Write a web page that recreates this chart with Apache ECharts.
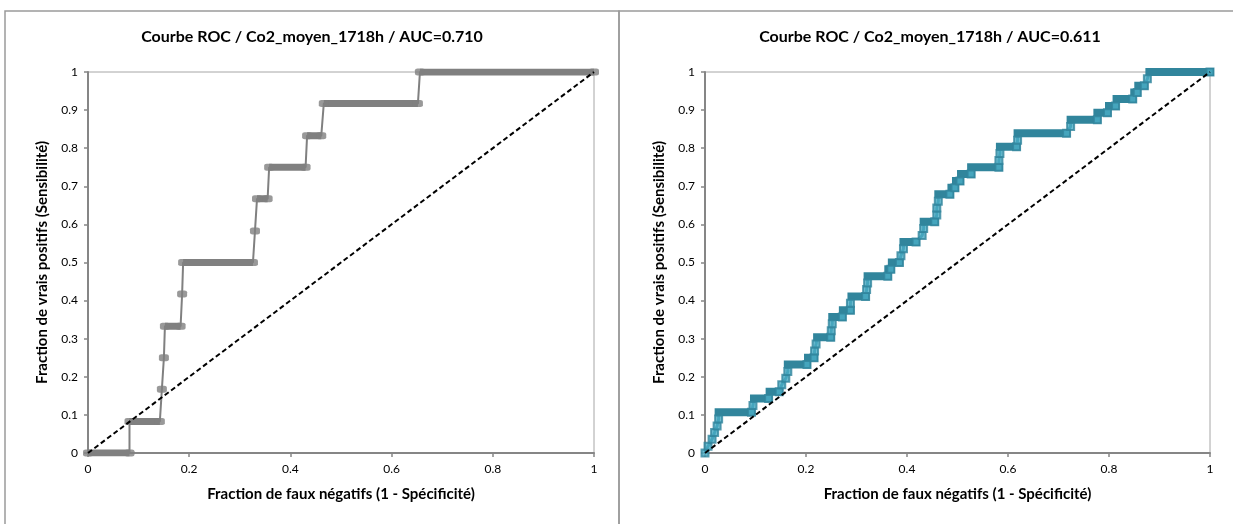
<!DOCTYPE html>
<html>
<head>
<meta charset="utf-8">
<script src="https://cdn.jsdelivr.net/npm/echarts@6/dist/echarts.min.js"></script>
<style>
html, body { margin: 0; padding: 0; background: #fff; }
#chart { width: 1233px; height: 524px; }
</style>
</head>
<body>
<div id="chart"></div>
<script>
// titles and axis names
var leftTitle = 'Courbe ROC / Co2_moyen_1718h / AUC=0.710';
var rightTitle = 'Courbe ROC / Co2_moyen_1718h / AUC=0.611';
var xName = 'Fraction de faux négatifs (1 - Spécificité)';
var yName = 'Fraction de vrais positifs (Sensibilité)';

// left curve (grey), corner points
var leftFpr = [0, 0.082, 0.082, 0.142, 0.146, 0.150, 0.152, 0.183, 0.186, 0.188, 0.326,
  0.330, 0.334, 0.355, 0.358, 0.430, 0.433, 0.461, 0.466, 0.652, 0.656, 1];
var leftTpr = [0, 0, 0.083, 0.083, 0.167, 0.25, 0.333, 0.333, 0.417, 0.5, 0.5,
  0.583, 0.667, 0.667, 0.75, 0.75, 0.833, 0.833, 0.917, 0.917, 1, 1];

// right curve (teal)
var rightFpr = [0, 0.006, 0.014, 0.019, 0.024, 0.027, 0.027, 0.092, 0.095, 0.097, 0.126,
  0.128, 0.147, 0.152, 0.160, 0.164, 0.164, 0.202, 0.204, 0.216, 0.217, 0.220,
  0.222, 0.249, 0.250, 0.252, 0.252, 0.272, 0.273, 0.288, 0.288, 0.290, 0.318,
  0.320, 0.322, 0.322, 0.362, 0.363, 0.368, 0.370, 0.385, 0.388, 0.393, 0.393,
  0.418, 0.430, 0.433, 0.433, 0.455, 0.459, 0.459, 0.462, 0.462, 0.485, 0.488,
  0.495, 0.497, 0.505, 0.507, 0.527, 0.527, 0.582, 0.582, 0.584, 0.584, 0.617,
  0.619, 0.619, 0.716, 0.724, 0.724, 0.777, 0.777, 0.797, 0.800, 0.813, 0.815,
  0.847, 0.850, 0.856, 0.858, 0.870, 0.876, 0.880, 1];
var rightTpr = [0, 0.018, 0.036, 0.054, 0.071, 0.089, 0.107, 0.107, 0.125, 0.143, 0.143,
  0.161, 0.161, 0.179, 0.196, 0.214, 0.232, 0.232, 0.25, 0.25, 0.268, 0.286,
  0.304, 0.304, 0.321, 0.339, 0.357, 0.357, 0.375, 0.375, 0.393, 0.411, 0.411,
  0.429, 0.446, 0.464, 0.464, 0.482, 0.482, 0.5, 0.5, 0.518, 0.536, 0.554,
  0.554, 0.571, 0.589, 0.607, 0.607, 0.625, 0.643, 0.661, 0.679, 0.679, 0.696,
  0.696, 0.714, 0.714, 0.732, 0.732, 0.75, 0.75, 0.768, 0.786, 0.804, 0.804,
  0.821, 0.839, 0.839, 0.857, 0.875, 0.875, 0.893, 0.893, 0.911, 0.911, 0.929,
  0.929, 0.946, 0.946, 0.964, 0.964, 0.982, 1, 1];

// random-guess reference line
var diagX = [0, 1];
var diagY = [0, 1];

var font = 'Lato, "Liberation Sans", sans-serif';

function pairs(xs, ys) {
  return xs.map(function (x, i) { return [x, ys[i]]; });
}

// horizontal runs (same tpr) drawn as thick bars, broken by gaps
function runs(xs, ys) {
  var out = [];
  var i = 0;
  while (i < xs.length) {
    var j = i;
    while (j + 1 < xs.length && ys[j + 1] === ys[i]) j++;
    if (j > i) {
      out.push([xs[i], ys[i]], [xs[j], ys[j]], [xs[j], '-']);
    }
    i = j + 1;
  }
  return out;
}

// markers left visible: last point of each run
function visibleMarks(xs, ys) {
  var out = [];
  for (var i = 0; i < xs.length; i++) {
    if (i === xs.length - 1 || ys[i + 1] !== ys[i]) out.push([xs[i], ys[i]]);
  }
  return out;
}

function xAxis(idx) {
  return {
    type: 'value', gridIndex: idx, min: 0, max: 1, interval: 0.2,
    name: xName, nameLocation: 'middle', nameGap: 34,
    nameTextStyle: { color: '#000', fontSize: 15, fontWeight: 'bold', fontFamily: font },
    axisLine: { lineStyle: { color: '#868686', width: 2 } },
    axisTick: { length: 4, lineStyle: { color: '#868686', width: 1.5 } },
    axisLabel: { color: '#000', fontSize: 12, margin: 10, fontFamily: font },
    splitLine: { show: false }
  };
}

function yAxis(idx) {
  return {
    type: 'value', gridIndex: idx, min: 0, max: 1, interval: 0.1,
    name: yName, nameLocation: 'middle', nameGap: 38,
    nameTextStyle: { color: '#000', fontSize: 15, fontWeight: 'bold', fontFamily: font },
    axisLine: { show: true, lineStyle: { color: '#868686', width: 2 } },
    axisTick: { show: true, length: 4, lineStyle: { color: '#868686', width: 1.5 } },
    axisLabel: { color: '#000', fontSize: 12, margin: 10, fontFamily: font },
    splitLine: { show: false }
  };
}

function diagSeries(idx) {
  return {
    type: 'line', xAxisIndex: idx, yAxisIndex: idx, data: pairs(diagX, diagY),
    symbol: 'none', z: 6, silent: true,
    lineStyle: { color: '#000', width: 2, type: [5, 3] }
  };
}

var chart = echarts.init(document.getElementById('chart'));
chart.setOption({
  animation: false,
  backgroundColor: '#fff',
  title: [
    { text: leftTitle, left: 312, top: 29, textAlign: 'center', padding: 0,
      textStyle: { fontSize: 16, fontWeight: 'bold', color: '#000', fontFamily: font } },
    { text: rightTitle, left: 930, top: 29, textAlign: 'center', padding: 0,
      textStyle: { fontSize: 16, fontWeight: 'bold', color: '#000', fontFamily: font } }
  ],
  graphic: [
    { type: 'rect', silent: true, shape: { x: 5, y: 11, width: 614, height: 540 },
      style: { fill: 'none', stroke: '#9a9a9a', lineWidth: 1.5 } },
    { type: 'rect', silent: true, shape: { x: 619, y: 11, width: 640, height: 540 },
      style: { fill: 'none', stroke: '#9a9a9a', lineWidth: 1.5 } }
  ],
  grid: [
    { left: 88, top: 72, width: 506, height: 381, show: true, borderColor: '#a6a6a6', borderWidth: 1 },
    { left: 705, top: 72, width: 505, height: 381, show: true, borderColor: '#a6a6a6', borderWidth: 1 }
  ],
  xAxis: [xAxis(0), xAxis(1)],
  yAxis: [yAxis(0), yAxis(1)],
  series: [
    // left chart
    { type: 'line', xAxisIndex: 0, yAxisIndex: 0, data: pairs(leftFpr, leftTpr),
      symbol: 'none', z: 2, silent: true, lineStyle: { color: '#808080', width: 2 } },
    { type: 'line', xAxisIndex: 0, yAxisIndex: 0, data: runs(leftFpr, leftTpr),
      symbol: 'none', connectNulls: false, z: 3, silent: true,
      lineStyle: { color: '#808080', width: 7, cap: 'butt' } },
    { type: 'scatter', xAxisIndex: 0, yAxisIndex: 0, data: pairs(leftFpr, leftTpr),
      symbol: 'roundRect', symbolSize: [10, 7], z: 4, silent: true,
      itemStyle: { color: '#808080' } },
    diagSeries(0),
    // right chart
    { type: 'line', xAxisIndex: 1, yAxisIndex: 1, data: pairs(rightFpr, rightTpr),
      symbol: 'none', z: 2, silent: true, lineStyle: { color: '#31859c', width: 3 } },
    { type: 'line', xAxisIndex: 1, yAxisIndex: 1, data: runs(rightFpr, rightTpr),
      symbol: 'none', connectNulls: false, z: 3, silent: true,
      lineStyle: { color: '#31859c', width: 8, cap: 'square' } },
    { type: 'scatter', xAxisIndex: 1, yAxisIndex: 1, data: visibleMarks(rightFpr, rightTpr),
      symbol: 'rect', symbolSize: 7, z: 4, silent: true,
      itemStyle: { color: '#4bacc6', borderColor: '#31859c', borderWidth: 2 } },
    diagSeries(1)
  ]
});
</script>
</body>
</html>
